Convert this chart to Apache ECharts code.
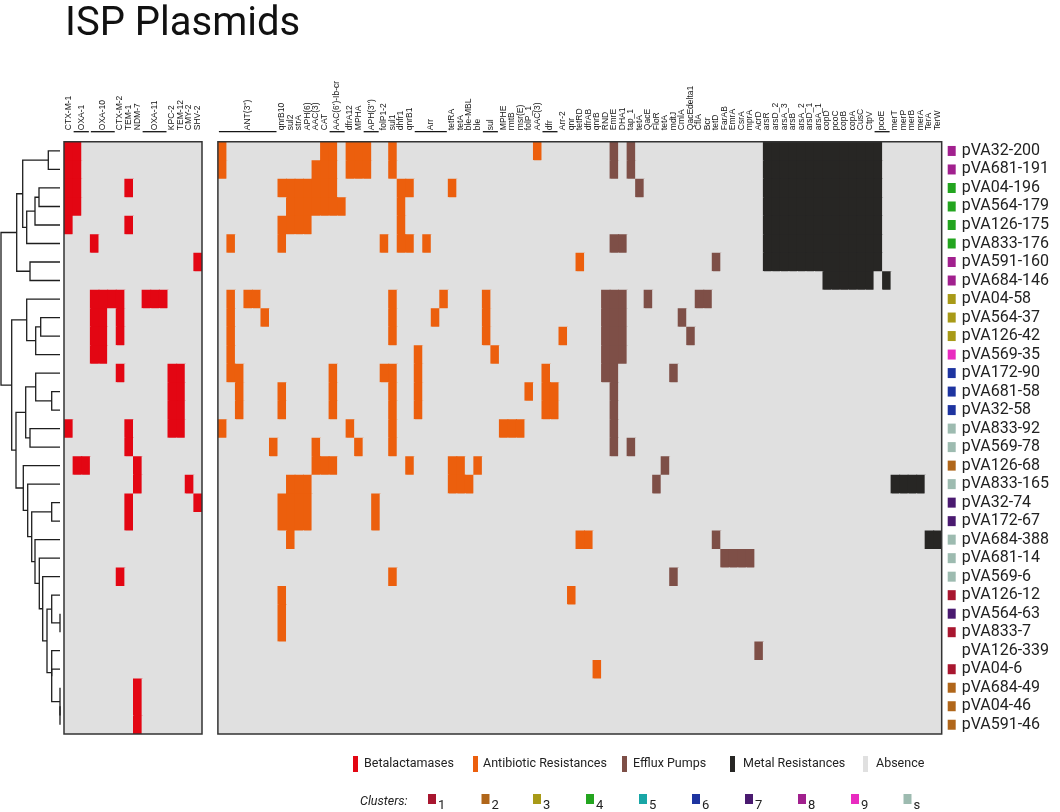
<!DOCTYPE html>
<html><head><meta charset="utf-8">
<script src="https://cdn.jsdelivr.net/npm/echarts@6/dist/echarts.min.js"></script>
<style>html,body{margin:0;padding:0;background:#fff}#c{width:1060px;height:812px}</style>
</head><body><div id="c"></div>
<script>
// ---------------- data ----------------
const plasmids = ['pVA32-200','pVA681-191','pVA04-196','pVA564-179','pVA126-175','pVA833-176','pVA591-160','pVA684-146',
  'pVA04-58','pVA564-37','pVA126-42','pVA569-35','pVA172-90','pVA681-58','pVA32-58','pVA833-92','pVA569-78','pVA126-68',
  'pVA833-165','pVA32-74','pVA172-67','pVA684-388','pVA681-14','pVA569-6','pVA126-12','pVA564-63','pVA833-7','pVA126-339',
  'pVA04-6','pVA684-49','pVA04-46','pVA591-46'];
const clusters = ['8','8','4','4','4','4','8','8','3','3','3','9','6','6','6','s','s','2','s','7','7','s','s','s','1','7','1','','1','2','2','2'];
const clusterNames = ['1','2','3','4','5','6','7','8','9','s'];
const clusterColors = ['#a8162f','#b0661a','#a89a17','#23a51f','#18a6a6','#1e34a0','#4a1a70','#a1208e','#e92bc0','#9dbbb0'];

const betaGenes = ['CTX-M-1','OXA-1','OXA-1','OXA-10','OXA-10','OXA-10','CTX-M-2','TEM-1','NDM-7','OXA-11','OXA-11','OXA-11','KPC-2','TEM-12','CMY-2','SHV-2'];
const antibioticGenes = ["ANT(3'')","ANT(3'')","ANT(3'')","ANT(3'')","ANT(3'')","ANT(3'')","ANT(3'')",
  'qnrB10','sul2','strA','APH(6)','AAC(3)','CAT',"AAC(6')-Ib-cr","AAC(6')-Ib-cr",'dfrA12','MPHA',"APH(3'')","APH(3'')",
  'folP1-2','sul1','dhfr1','qnrB1','Arr','Arr','Arr','Arr','tetRA','tetA','ble-MBL','ble','sul','sul',
  'MPHE','rmtB','msr(E)','folP_1','AAC(3)','dfr','dfr','Arr-2','qnr','tetRD','dfrAB','qnrB'];
const effluxGenes = ['RND','EmrE','DHA1','tap_1','tetA','QacE','FloR','tetA','mdtJ','CmlA','QacEdelta1','CflA','Bcr','tetD',
  'FarAB','EmrA','CsrA','mprA','AcrD'];
const metalGenes = ['arsR','arsD_2','arsA_3','arsB','arsA_2','arsD_1','arsA_1','copD','pcoC','copB','copA','CusC','CtpV',
  'pcoE','pcoE','merT','merP','merB','merA','TerA','TerW'];

// genes present per plasmid (column indices), beta-lactamase panel
const betaPresent = [[0,1],[0,1],[0,1,7],[0,1],[0,7],[3],[15],[],
  [3,4,5,6,9,10,11],[3,4,6],[3,4,6],[3,4],[6,12,13],[12,13],[12,13],[0,7,12,13],[7],[1,2,8],
  [8,14],[7,15],[7],[],[],[6],[],[],[],[],[],[8],[8],[8]];
// genes present per plasmid (column indices), other resistance panel
const otherPresent = [
  [0,12,13,15,16,17,20,37,46,48,64,65,66,67,68,69,70,71,72,73,74,75,76,77],
  [0,11,12,13,15,16,17,20,46,48,64,65,66,67,68,69,70,71,72,73,74,75,76,77],
  [7,8,9,10,11,12,13,21,22,27,49,64,65,66,67,68,69,70,71,72,73,74,75,76,77],
  [8,9,10,11,12,13,14,21,64,65,66,67,68,69,70,71,72,73,74,75,76,77],
  [7,8,9,10,21,64,65,66,67,68,69,70,71,72,73,74,75,76,77],
  [1,7,19,21,22,24,46,47,64,65,66,67,68,69,70,71,72,73,74,75,76,77],
  [42,58,64,65,66,67,68,69,70,71,72,73,74,75,76,77],
  [71,72,73,74,75,76,78],
  [1,3,4,20,26,31,45,46,47,50,56,57],
  [1,5,20,25,31,45,46,47,54],
  [1,20,31,40,45,46,47,55],
  [1,23,32,45,46,47],
  [1,2,13,19,20,23,38,45,46,53],
  [2,7,13,20,23,36,38,39,46],
  [2,7,13,20,23,38,39,46],
  [0,15,20,33,34,35,46],
  [6,11,16,20,46,48],
  [11,12,13,22,27,28,30,52],
  [8,9,10,27,28,29,51,79,80,81,82],
  [7,8,9,10,18],
  [7,8,9,10,18],
  [8,42,43,58,83,84],
  [59,60,61,62],
  [20,53],
  [7,41],
  [7],
  [7],
  [63],
  [44],
  [],[],[]];

// hierarchical clustering merges: [childA, childB, height]
const merges = [
  ['r0','r1',11.7],['r2','r3',21],['m1','r4',25],['m2','r5',33.3],['m0','m3',37.3],['r6','r7',30],['m4','m5',43.3],
  ['r9','r10',19.3],['m7','r11',24.3],['r8','m8',33.3],['r13','r14',8.3],['r12','m10',24.3],['r15','r16',30],['m11','m12',34.3],
  ['r25','r26',0],['r24','m14',8.3],['r30','r31',0],['r29','m16',0],['r27','m17',8.3],['r28','m18',8.3],['m15','m19',13],
  ['r23','m20',17.3],['r22','m21',20.7],['r21','m22',25],['r19','r20',8.3],['m24','m23',28.3],['r18','m25',32.3],
  ['r17','m26',36.7],['m13','m27',44],['m9','m28',48.3],['m6','m29',59]];

const legendItems = ['Betalactamases','Antibiotic Resistances','Efflux Pumps','Metal Resistances','Absence'];

// ---------------- styles / layout ----------------
const COL = {absent:'#e0e0e0', beta:'#e30613', anti:'#ec5f0d', efflux:'#7e4f47', metal:'#272624'};
const cellColors = [COL.absent, COL.beta, COL.anti, COL.efflux, COL.metal];
const TOP = 141.7, H = 592.3;
const G = [{left:1,width:59},{left:64,width:138},{left:217.9,width:723.8}];
const labelFont = '"Liberation Sans", Arial, sans-serif';
const mainFont = 'Roboto, "Noto Sans", sans-serif';

const otherGenes = antibioticGenes.concat(effluxGenes, metalGenes);
const otherClass = antibioticGenes.map(() => 2).concat(effluxGenes.map(() => 3), metalGenes.map(() => 4));

// cells
const betaCells = [], otherCells = [];
plasmids.forEach((p, r) => {
  betaGenes.forEach((g, c) => betaCells.push([c, r, betaPresent[r].includes(c) ? 1 : 0]));
  otherGenes.forEach((g, c) => otherCells.push([c, r, otherPresent[r].includes(c) ? otherClass[c] : 0]));
});

// label groups (consecutive identical gene names)
function groups(genes) {
  const out = [];
  genes.forEach((g, i) => {
    const last = out[out.length - 1];
    if (last && last.name === g && last.end === i - 1) last.end = i;
    else out.push({name: g, start: i, end: i});
  });
  return out;
}
const betaGroups = groups(betaGenes), otherGroups = groups(otherGenes);

// dendrogram
const pos = {}, hgt = {};
plasmids.forEach((p, r) => { pos['r' + r] = r + 0.5; hgt['r' + r] = 0; });
const dendroSegs = merges.map((m, i) => {
  const [a, b, h] = m;
  pos['m' + i] = (pos[a] + pos[b]) / 2; hgt['m' + i] = h;
  return [hgt[a], pos[a], h, pos[a], h, pos[b], hgt[b], pos[b]];
});

function cellRender(params, api) {
  const p = api.coord([api.value(0), api.value(1)]);
  const s = api.size([1, 1]);
  return {type: 'rect', shape: {x: p[0] - s[0] / 2, y: p[1] - s[1] / 2, width: s[0] + 1, height: s[1] + 1},
    style: {fill: cellColors[api.value(2)]}};
}
function labelRender(grp) {
  return function (params, api) {
    const g = grp[params.dataIndex];
    const p0 = api.coord([g.start, 0]), p1 = api.coord([g.end, 0]);
    const s = api.size([1, 1]);
    const top = p0[1] - s[1] / 2;
    const cx = (p0[0] + p1[0]) / 2;
    const children = [{type: 'text', x: cx, y: top - 11.5, rotation: Math.PI / 2,
      style: {text: g.name, fontSize: 8.5, fontFamily: labelFont, fill: '#151515', align: 'left', verticalAlign: 'middle'}}];
    if (g.end > g.start) children.push({type: 'line',
      shape: {x1: p0[0] - s[0] / 2 + 1, y1: top - 10, x2: p1[0] + s[0] / 2 - 1, y2: top - 10},
      style: {stroke: '#151515', lineWidth: 1.3}});
    return {type: 'group', children};
  };
}

const rich = {t: {fontSize: 16, fontFamily: mainFont, color: '#222', padding: [0, 0, 0, 6]},
  cn: {width: 8, height: 10, backgroundColor: 'transparent'}};
clusterNames.forEach((n, i) => { rich['c' + n] = {width: 8, height: 10, backgroundColor: clusterColors[i]}; });

const legendX = [[353, 364], [473, 483], [622, 633], [730, 743], [863, 876]];
const legendColors = [COL.beta, COL.anti, COL.efflux, COL.metal, COL.absent];
const clusterX = [428, 481.5, 533, 586, 639, 692, 745, 798, 851, 903.5];
const graphic = [
  {type: 'text', x: 65, y: 25, style: {text: 'ISP Plasmids', fontSize: 40, fontFamily: mainFont, fill: '#111', verticalAlign: 'middle'}},
  ...G.slice(1).map(g => ({type: 'rect', z: 100, shape: {x: g.left, y: TOP, width: g.width, height: H},
    style: {fill: 'none', stroke: '#333', lineWidth: 1.5}})),
  ...legendItems.flatMap((t, i) => [
    {type: 'rect', shape: {x: legendX[i][0], y: 756, width: 5, height: 16}, style: {fill: legendColors[i]}},
    {type: 'text', x: legendX[i][1], y: 764, style: {text: t, fontSize: 12.5, fontFamily: mainFont, fill: '#222', verticalAlign: 'middle'}}]),
  {type: 'text', x: 360, y: 802, style: {text: 'Clusters:', fontSize: 12.5, fontStyle: 'italic', fontFamily: mainFont, fill: '#222', verticalAlign: 'middle'}},
  ...clusterNames.flatMap((n, i) => [
    {type: 'rect', shape: {x: clusterX[i], y: 794, width: 8, height: 10}, style: {fill: clusterColors[i]}},
    {type: 'text', x: clusterX[i] + 10, y: 806, style: {text: n, fontSize: 13, fontFamily: mainFont, fill: '#222', verticalAlign: 'middle'}}])
];

const hiddenCat = (data, extra) => Object.assign({type: 'category', data, show: false}, extra || {});
const option = {
  animation: false,
  grid: G.map(g => ({left: g.left, top: TOP, width: g.width, height: H, show: g.left > 10, backgroundColor: COL.absent, borderWidth: 0})),
  xAxis: [
    {type: 'value', gridIndex: 0, min: 0, max: 59, inverse: true, show: false},
    hiddenCat(betaGenes.map((g, i) => i), {gridIndex: 1}),
    hiddenCat(otherGenes.map((g, i) => i), {gridIndex: 2})
  ],
  yAxis: [
    {type: 'value', gridIndex: 0, min: 0, max: plasmids.length, inverse: true, show: false},
    hiddenCat(plasmids, {gridIndex: 1, inverse: true}),
    {type: 'category', gridIndex: 2, data: plasmids, inverse: true, position: 'right',
      axisLine: {show: false}, axisTick: {show: false}, splitLine: {show: false},
      axisLabel: {margin: 6, rich, formatter: (v, i) => '{c' + (clusters[i] || 'n') + '|}{t|' + v + '}'}}
  ],
  series: [
    {type: 'custom', xAxisIndex: 0, yAxisIndex: 0, data: dendroSegs, encode: {x: [0, 2, 4, 6], y: [1, 3, 5, 7]},
      renderItem(params, api) {
        const pts = [0, 1, 2, 3].map(k => api.coord([api.value(2 * k), api.value(2 * k + 1)]));
        return {type: 'polyline', shape: {points: pts}, style: {stroke: '#1e1e1e', lineWidth: 1.3, fill: 'none'}};
      }},
    {type: 'custom', xAxisIndex: 1, yAxisIndex: 1, clip: true, data: betaCells, renderItem: cellRender},
    {type: 'custom', xAxisIndex: 2, yAxisIndex: 2, clip: true, data: otherCells, renderItem: cellRender},
    {type: 'custom', xAxisIndex: 1, yAxisIndex: 1, clip: false, data: betaGroups.map(g => [g.start, 0]), renderItem: labelRender(betaGroups)},
    {type: 'custom', xAxisIndex: 2, yAxisIndex: 2, clip: false, data: otherGroups.map(g => [g.start, 0]), renderItem: labelRender(otherGroups)}
  ],
  graphic
};
const chart = echarts.init(document.getElementById('c'));
chart.setOption(option);
</script></body></html>
